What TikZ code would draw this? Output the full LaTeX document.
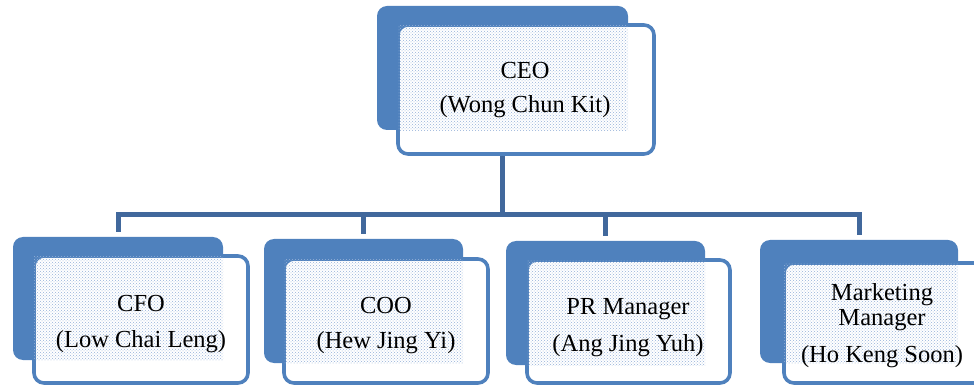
\documentclass[tikz,border=0pt]{standalone}
\usepackage{fontspec}
\setmainfont{Liberation Serif}
\usetikzlibrary{patterns}
\definecolor{boxblue}{RGB}{79,129,189}
\definecolor{connblue}{RGB}{65,104,156}
\definecolor{dotblue}{RGB}{150,178,216}
\tikzset{
  conn/.style={draw=connblue, line width=5pt, line cap=rect},
  drop/.style={draw=connblue, line width=5pt},
  backbox/.style={rectangle, fill=boxblue, rounded corners=10pt, inner sep=0pt},
  frontbox/.style={rectangle, draw=boxblue, fill=white, line width=3.6pt, rounded corners=10pt, inner sep=0pt},
  txtarea/.style={pattern=crosshatch dots, pattern color=dotblue},
  lbl/.style={inner sep=0pt, anchor=base, font=\fontsize{24.5}{29}\selectfont, text=black},
}
\begin{document}
\begin{tikzpicture}[x=1pt,y=-1pt]
\useasboundingbox (0,0) rectangle (974,387);
% bus coordinate
\coordinate (bus) at (0,215);
% back boxes
\node[backbox, minimum width=251pt, minimum height=124pt] (ceoB) at (502.5,68) {};
\node[backbox, minimum width=210pt, minimum height=123pt] (cfoB) at (118,298.5) {};
\node[backbox, minimum width=199pt, minimum height=124pt] (cooB) at (363.5,301) {};
\node[backbox, minimum width=199pt, minimum height=124pt] (prB) at (605.5,303) {};
\node[backbox, minimum width=198pt, minimum height=123pt] (mktB) at (859,301.5) {};
% connectors
\draw[conn] (ceoB.south) -- (ceoB.south |- bus);
\draw[conn] (cfoB.north |- bus) -- (mktB.north |- bus);
\draw[drop, shorten >=5pt] (cfoB.north |- bus) -- (cfoB.north);
\draw[drop, shorten >=5pt] (cooB.north |- bus) -- (cooB.north);
\draw[drop, shorten >=5pt] (prB.north |- bus) -- (prB.north);
\draw[drop, shorten >=5pt] (mktB.north |- bus) -- (mktB.north);
% front boxes
\node[frontbox, minimum width=256pt, minimum height=129pt] (ceoF) at (526,89.5) {};
\node[frontbox, minimum width=214pt, minimum height=127pt] (cfoF) at (141,319.5) {};
\node[frontbox, minimum width=204pt, minimum height=124pt] (cooF) at (386,321) {};
\node[frontbox, minimum width=203pt, minimum height=123pt] (prF) at (628.5,321.5) {};
\node[frontbox, minimum width=204pt, minimum height=120pt] (mktF) at (886,323) {};
% dotted text areas (overlap of front and back boxes)
\fill[txtarea] ([shift={(2pt,-2pt)}]ceoF.north west) rectangle (ceoB.south east);
\fill[txtarea] ([shift={(2pt,-2pt)}]cfoF.north west) rectangle (cfoB.south east);
\fill[txtarea] ([shift={(2pt,-2pt)}]cooF.north west) rectangle (cooB.south east);
\fill[txtarea] ([shift={(2pt,-2pt)}]prF.north west) rectangle (prB.south east);
\fill[txtarea] ([shift={(2pt,-2pt)}]mktF.north west) rectangle (mktB.south east);
% labels
\node[lbl] (ceoT1) at (525,79) {CEO};
\node[lbl] (ceoT2) at (525,113) {(Wong Chun Kit)};
\node[lbl] (cfoT1) at (141,312) {CFO};
\node[lbl] (cfoT2) at (141,347) {(Low Chai Leng)};
\node[lbl] (cooT1) at (386,313) {COO};
\node[lbl] (cooT2) at (386,348) {(Hew Jing Yi)};
\node[lbl] (prT1) at (628,314) {PR Manager};
\node[lbl] (prT2) at (628,351) {(Ang Jing Yuh)};
\node[lbl] (mktT1) at (882,300) {Marketing};
\node[lbl] (mktT2) at (882,325) {Manager};
\node[lbl] (mktT3) at (882,362) {(Ho Keng Soon)};
\end{tikzpicture}
\end{document}
